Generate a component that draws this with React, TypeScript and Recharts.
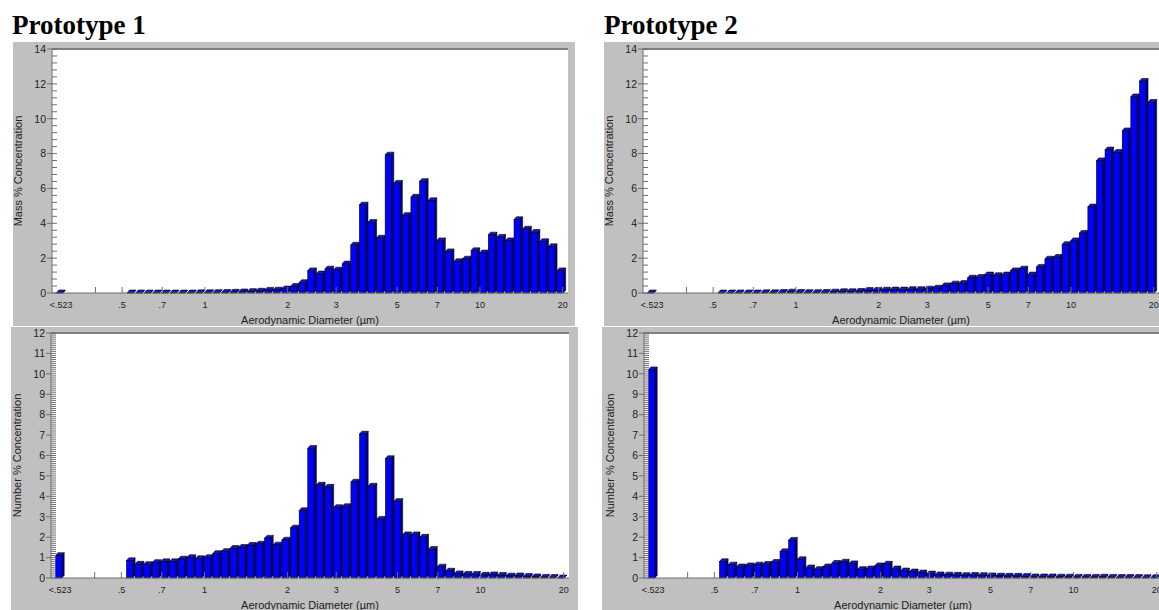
import { BarChart, Bar, XAxis, YAxis, CartesianGrid, ReferenceLine } from "recharts";

// APS channel midpoints (µm). 0.3 is only the axis slot used for the "<.523" channel.
const channelPos = [
  0.3, 0.542, 0.583, 0.626, 0.673, 0.723, 0.777, 0.835, 0.898, 0.965, 1.037, 1.114, 1.197, 1.286,
  1.382, 1.486, 1.596, 1.715, 1.843, 1.981, 2.129, 2.288, 2.458, 2.642, 2.839, 3.051, 3.278, 3.523,
  3.786, 4.068, 4.371, 4.698, 5.048, 5.425, 5.829, 6.264, 6.732, 7.234, 7.774, 8.354, 8.977, 9.647,
  10.37, 11.14, 11.97, 12.86, 13.82, 14.86, 15.96, 17.15, 18.43, 19.81,
];

const xTicks = [0.3, 0.4, 0.5, 0.7, 1, 2, 3, 5, 7, 10, 20];
const xTickLabels = ["<.523", "", ".5", ".7", "1", "2", "3", "5", "7", "10", "20"];

const massP1 = [
  0.01, 0.01, 0.01, 0.01, 0.01, 0.01, 0.01, 0.01, 0.01, 0.02, 0.02, 0.03, 0.04, 0.05, 0.07, 0.09,
  0.11, 0.16, 0.17, 0.24, 0.38, 0.6, 1.28, 1.1, 1.38, 1.32, 1.67, 2.75, 5.05, 4.05, 3.15, 7.92, 6.3,
  4.45, 5.5, 6.4, 5.3, 3.0, 2.37, 1.8, 1.95, 2.43, 2.3, 3.33, 3.2, 3.0, 4.21, 3.67, 3.48, 2.95, 2.66,
  1.28,
];

const numberP1 = [
  1.1, 0.85, 0.68, 0.66, 0.76, 0.8, 0.8, 0.93, 1.0, 0.95, 1.0, 1.2, 1.3, 1.45, 1.5, 1.6, 1.66, 1.95,
  1.62, 1.86, 2.45, 3.3, 6.35, 4.55, 4.45, 3.45, 3.5, 4.7, 7.05, 4.5, 2.88, 5.85, 3.75, 2.12, 2.12,
  2.0, 1.4, 0.54, 0.34, 0.21, 0.18, 0.18, 0.14, 0.16, 0.13, 0.1, 0.11, 0.08, 0.06, 0.04, 0.03, 0.01,
];

const massP2 = [
  0.01, 0.01, 0.01, 0.01, 0.01, 0.01, 0.02, 0.02, 0.04, 0.06, 0.04, 0.03, 0.03, 0.04, 0.06, 0.08,
  0.08, 0.1, 0.15, 0.16, 0.17, 0.18, 0.18, 0.2, 0.2, 0.23, 0.28, 0.42, 0.52, 0.55, 0.86, 0.9, 1.04,
  1.0, 1.04, 1.28, 1.38, 1.04, 1.48, 1.95, 2.05, 2.78, 3.0, 3.43, 4.94, 7.59, 8.21, 8.07, 9.31,
  11.26, 12.15, 10.94,
];

const numberP2 = [
  10.2, 0.8, 0.64, 0.55, 0.6, 0.64, 0.67, 0.77, 1.29, 1.85, 0.9, 0.5, 0.42, 0.55, 0.72, 0.78, 0.7,
  0.42, 0.45, 0.6, 0.68, 0.45, 0.35, 0.3, 0.25, 0.2, 0.16, 0.15, 0.14, 0.12, 0.13, 0.12, 0.11, 0.1,
  0.09, 0.09, 0.08, 0.06, 0.06, 0.06, 0.05, 0.05, 0.04, 0.04, 0.04, 0.05, 0.04, 0.03, 0.03, 0.03,
  0.02, 0.02,
];

const massTicks = [0, 2, 4, 6, 8, 10, 12, 14];
const numberTicks = [0, 1, 2, 3, 4, 5, 6, 7, 8, 9, 10, 11, 12];

const FONT = "'Liberation Sans', Arial, sans-serif";
const AXIS_GRAY = "#6f6f6f";

function Bar3D(props: any) {
  const { x, y, width, height } = props;
  if (x == null || y == null) return null;
  const cx = x + width / 2;
  const w = 8.6;
  const d = 2.3;
  const dy = 2.8;
  const left = cx - w / 2;
  const fw = w - d;
  const bottom = y + height;
  return (
    <g>
      <polygon
        points={`${left + fw},${y} ${left + w},${y - dy} ${left + w},${bottom - dy} ${left + fw},${bottom}`}
        fill="#00009c"
        stroke="#000"
        strokeWidth={0.6}
      />
      <polygon
        points={`${left},${y} ${left + d},${y - dy} ${left + w},${y - dy} ${left + fw},${y}`}
        fill="#1616c8"
        stroke="#000"
        strokeWidth={0.6}
      />
      <rect x={left} y={y} width={fw} height={Math.max(height, 0)} fill="#0000ff" stroke="#000" strokeWidth={0.6} />
    </g>
  );
}

type PanelProps = {
  left: number;
  top: number;
  width: number;
  height: number;
  plotLeft: number;
  plotTop: number;
  plotRight: number;
  plotBottom: number;
  values: number[];
  yMax: number;
  majorTicks: number[];
  minorStep: number;
  yTitle: string;
};

function Panel({
  left,
  top,
  width,
  height,
  plotLeft,
  plotTop,
  plotRight,
  plotBottom,
  values,
  yMax,
  majorTicks,
  minorStep,
  yTitle,
}: PanelProps) {
  const data = channelPos.map((d, i) => ({ d, v: values[i] }));
  const steps = Math.round(yMax / minorStep);
  const yTicks = Array.from({ length: steps + 1 }, (_, i) => +(i * minorStep).toFixed(3));
  const plotMidY = (plotTop + plotBottom) / 2;
  const plotMidX = (plotLeft + plotRight) / 2;

  const renderYTick = (p: any) => {
    const v = p.payload.value;
    const isMajor = majorTicks.includes(v);
    return (
      <g>
        <line x1={isMajor ? plotLeft - 5 : plotLeft} x2={plotLeft + 5} y1={p.y} y2={p.y} stroke={AXIS_GRAY} strokeWidth={1} />
        {isMajor && (
          <text x={plotLeft - 6} y={p.y + 3.8} textAnchor="end" fontSize={10.5} fill="#222">
            {v}
          </text>
        )}
      </g>
    );
  };

  const renderXTick = (p: any) => {
    const v = p.payload.value;
    const label = xTickLabels[xTicks.indexOf(v)];
    return (
      <g>
        {v !== 0.3 && <line x1={p.x} x2={p.x} y1={plotBottom} y2={plotBottom - 6} stroke={AXIS_GRAY} strokeWidth={1} />}
        <text x={p.x} y={plotBottom + 15} textAnchor="middle" fontSize={9} fill="#222">
          {label}
        </text>
      </g>
    );
  };

  return (
    <div style={{ position: "absolute", left, top, width, height, background: "#c0c0c0" }}>
      <BarChart
        width={width}
        height={height}
        data={data}
        margin={{ top: plotTop, right: width - plotRight, bottom: 0, left: 0 }}
        style={{ fontFamily: FONT }}
      >
        <CartesianGrid fill="#ffffff" horizontal={false} vertical={false} stroke="none" />
        <XAxis
          dataKey="d"
          type="number"
          scale="log"
          domain={[0.278, 20.9]}
          allowDataOverflow
          ticks={xTicks}
          interval={0}
          tick={renderXTick}
          tickLine={false}
          axisLine={{ stroke: AXIS_GRAY }}
          height={height - plotBottom}
          label={{
            content: () => (
              <text x={plotMidX} y={plotBottom + 31} textAnchor="middle" fontSize={11} fill="#222" fontFamily={FONT}>
                Aerodynamic Diameter (µm)
              </text>
            ),
          }}
        />
        <YAxis
          type="number"
          domain={[0, yMax]}
          ticks={yTicks}
          interval={0}
          tick={renderYTick}
          tickLine={false}
          axisLine={{ stroke: AXIS_GRAY }}
          width={plotLeft}
          label={{
            content: () => (
              <text
                x={plotLeft - 34}
                y={plotMidY}
                transform={`rotate(-90 ${plotLeft - 34} ${plotMidY})`}
                textAnchor="middle"
                dominantBaseline="central"
                fontSize={11}
                fill="#222"
                fontFamily={FONT}
              >
                {yTitle}
              </text>
            ),
          }}
        />
        <ReferenceLine y={yMax} stroke="#808080" strokeWidth={2} />
        <Bar dataKey="v" barSize={8} shape={Bar3D} isAnimationActive={false} />
      </BarChart>
    </div>
  );
}

const titleStyle = {
  position: "absolute" as const,
  top: 12,
  fontFamily: "'Liberation Serif', 'Times New Roman', serif",
  fontWeight: 700,
  fontSize: 27,
  lineHeight: "27px",
  color: "#000",
};

export default function App() {
  return (
    <div
      style={{
        position: "absolute",
        left: 0,
        top: 0,
        width: 1159,
        height: 610,
        overflow: "hidden",
        background: "#fff",
      }}
    >
      <div style={{ ...titleStyle, left: 12 }}>Prototype 1</div>
      <div style={{ ...titleStyle, left: 604 }}>Prototype 2</div>

      <Panel
        left={13}
        top={42}
        width={562}
        height={284}
        plotLeft={39}
        plotTop={7}
        plotRight={555}
        plotBottom={251}
        values={massP1}
        yMax={14}
        majorTicks={massTicks}
        minorStep={0.4}
        yTitle="Mass % Concentration"
      />
      <Panel
        left={11}
        top={327}
        width={567}
        height={290}
        plotLeft={40}
        plotTop={6}
        plotRight={558}
        plotBottom={251}
        values={numberP1}
        yMax={12}
        majorTicks={numberTicks}
        minorStep={0.1}
        yTitle="Number % Concentration"
      />
      <Panel
        left={604}
        top={42}
        width={562}
        height={284}
        plotLeft={39}
        plotTop={7}
        plotRight={555}
        plotBottom={251}
        values={massP2}
        yMax={14}
        majorTicks={massTicks}
        minorStep={0.4}
        yTitle="Mass % Concentration"
      />
      <Panel
        left={602}
        top={327}
        width={567}
        height={290}
        plotLeft={42}
        plotTop={6}
        plotRight={560}
        plotBottom={251}
        values={numberP2}
        yMax={12}
        majorTicks={numberTicks}
        minorStep={0.1}
        yTitle="Number % Concentration"
      />
    </div>
  );
}
